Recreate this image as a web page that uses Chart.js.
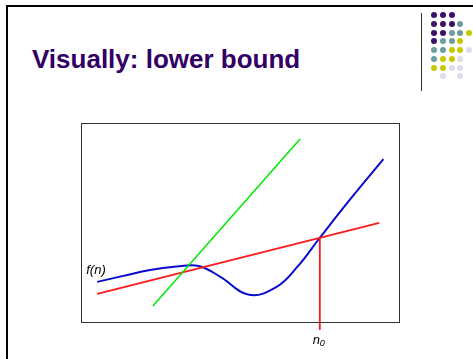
<!DOCTYPE html>
<html>
<head>
<meta charset="utf-8">
<script src="https://cdn.jsdelivr.net/npm/chart.js@4"></script>
<style>
    html, body { margin: 0; padding: 0; background: #fff; }
    body { width: 473px; height: 359px; position: relative; overflow: hidden; }
    #frame { position: absolute; left: 6px; top: 5px; width: 600px; height: 600px;
             border-left: 2px solid #000; border-top: 2px solid #000; }
    #title { position: absolute; left: 32px; top: 46px; margin: 0;
             font: bold 26px "Liberation Sans", Arial, sans-serif; line-height: 1;
             color: #330066; white-space: nowrap; }
    #rule { position: absolute; left: 421px; top: 13px; width: 1px; height: 78px; background: #333; }
    .dot { position: absolute; width: 6px; height: 6px; border-radius: 50%; }
    #chart { position: absolute; left: 0; top: 0; }
</style>
</head>
<body>
<div id="frame"></div>
<h1 id="title">Visually: lower bound</h1>
<div id="rule"></div>
<canvas id="chart" width="473" height="359"></canvas>
<script>
// curve f(n)
const blueX = [0.51, 1.33, 2.17, 3.01, 3.70, 4.37, 5.29, 6.15, 6.80, 7.51, 8.50, 9.51];
const blueY = [1.21, 1.39, 1.57, 1.67, 1.69, 1.37, 0.82, 1.06, 1.66, 2.54, 3.74, 4.91];
// lower bound line (red) and steeper line (green)
const redX = [0.51, 9.38];
const redY = [0.85, 2.99];
const greenX = [2.26, 6.89];
const greenY = [0.48, 5.52];
// n0 marker
const n0X = [7.51, 7.51];
const n0Y = [2.54, -0.24];
const labels = ['f(n)', 'n', '0'];

// decorative dot grid in the corner
const dotRows = [
    'PPP  ',
    'PPPT ',
    'PPTTY',
    'PTTY ',
    'TTYYL',
    'TYYL ',
    'YYLL ',
    ' L L '
];
const dotColors = { P: '#3d0f6b', T: '#6b9e9e', Y: '#c9c900', L: '#dcdcee' };

dotRows.forEach(function(row, r) {
    row.split('').forEach(function(c, col) {
        if (c === ' ') return;
        const d = document.createElement('div');
        d.className = 'dot';
        d.style.left = (431.3 + col * 8.7) + 'px';
        d.style.top = (12 + r * 8.75) + 'px';
        d.style.background = dotColors[c];
        document.body.appendChild(d);
    });
});

function pts(xs, ys) {
    return xs.map(function(x, i) { return { x: x, y: ys[i] }; });
}

const boxPlugin = {
    id: 'box',
    afterDraw: function(chart) {
        const ctx = chart.ctx;
        const a = chart.chartArea;
        const sx = chart.scales.x, sy = chart.scales.y;
        ctx.save();
        ctx.strokeStyle = '#333';
        ctx.lineWidth = 1;
        ctx.strokeRect(a.left + 0.5, a.top + 0.5, a.right - a.left, a.bottom - a.top);

        ctx.fillStyle = '#000';
        ctx.font = 'italic 13px "Liberation Sans", Arial, sans-serif';
        ctx.textBaseline = 'alphabetic';
        ctx.textAlign = 'left';
        ctx.fillText(labels[0], sx.getPixelForValue(blueX[0]) - 11, sy.getPixelForValue(blueY[0]) - 8);

        const nx = sx.getPixelForValue(n0X[0]);
        ctx.fillText(labels[1], nx - 7, 344);
        ctx.font = 'italic 9px "Liberation Sans", Arial, sans-serif';
        ctx.fillText(labels[2], nx, 346);
        ctx.restore();
    }
};

new Chart(document.getElementById('chart'), {
    type: 'scatter',
    data: {
        datasets: [{
            data: pts(greenX, greenY),
            showLine: true,
            borderColor: '#00e600',
            borderWidth: 1.5,
            pointRadius: 0
        }, {
            data: pts(redX, redY),
            showLine: true,
            borderColor: '#ff1a1a',
            borderWidth: 1.8,
            pointRadius: 0
        }, {
            data: pts(n0X, n0Y),
            showLine: true,
            borderColor: '#ff1a1a',
            borderWidth: 1.8,
            pointRadius: 0,
            clip: false
        }, {
            data: pts(blueX, blueY),
            showLine: true,
            borderColor: '#0a0acc',
            borderWidth: 2,
            pointRadius: 0,
            tension: 0.4
        }]
    },
    options: {
        responsive: false,
        animation: false,
        layout: { padding: { left: 81, top: 123, right: 74, bottom: 37 } },
        plugins: {
            legend: { display: false },
            tooltip: { enabled: false }
        },
        scales: {
            x: { type: 'linear', min: 0, max: 10, display: false },
            y: { type: 'linear', min: 0, max: 6, display: false }
        }
    },
    plugins: [boxPlugin]
});
</script>
</body>
</html>
